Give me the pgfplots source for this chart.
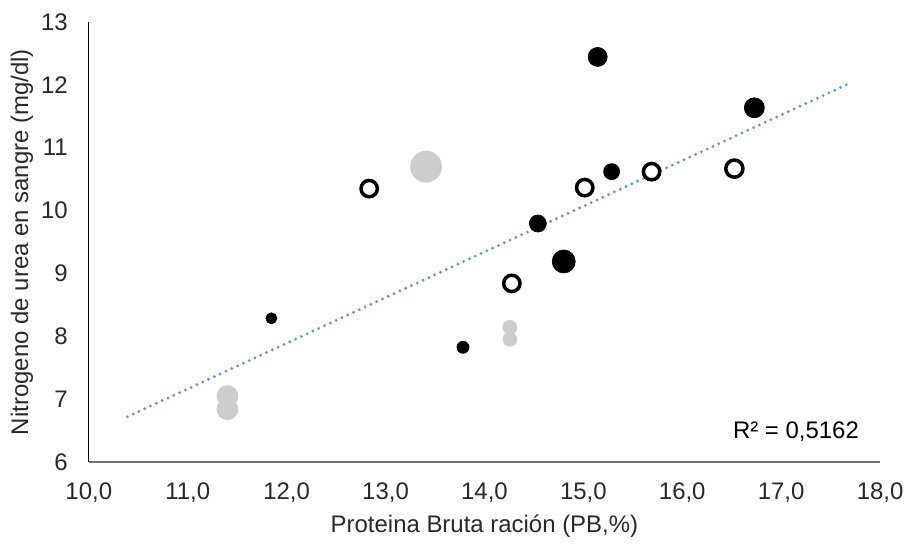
\documentclass[border=0pt]{standalone}
\usepackage{fontspec}
\setmainfont{Liberation Sans}
\usepackage{pgfplots}
\pgfplotsset{compat=1.18}
\usepackage{pgfplotstable}

\definecolor{trend}{RGB}{91,155,213}
\definecolor{lightgr}{RGB}{205,205,207}
\definecolor{txt}{RGB}{40,40,40}

% x, y, radius (pt)
\pgfplotstableread{
x y r
15.145 12.444 4.75
16.729 11.635 5.0
15.286 10.619 4.0
14.540 9.794 4.25
14.802 9.190 5.75
11.846 8.286 2.75
13.783 7.825 3.0
}\llenos

\pgfplotstableread{
x y r
12.835 10.349 4.1
15.014 10.365 4.1
15.690 10.619 4.1
16.527 10.667 4.3
14.277 8.841 4.1
}\abiertos

\pgfplotstableread{
x y r
13.410 10.698 7.75
11.402 7.048 5.25
11.402 6.841 5.25
14.257 8.143 3.5
14.257 7.952 3.5
}\grises

\begin{document}
\begin{tikzpicture}
\begin{axis}[
    name=ax,
    scale only axis,
    width=396.5pt,
    height=220.5pt,
    xmin=10, xmax=18,
    ymin=6, ymax=13,
    xtick={10,11,...,18},
    ytick={6,7,...,13},
    axis x line*=bottom,
    axis y line*=left,
    x axis line style={draw=black!55, line width=0.6pt},
    y axis line style={draw=black, line width=0.6pt},
    major tick length=0pt,
    font=\fontsize{12}{14}\selectfont,
    ticklabel style={text=txt},
    /pgf/number format/assume math mode=true,
    xticklabel style={/pgf/number format/.cd, fixed, fixed zerofill, precision=1, use comma, /tikz/.cd, yshift=-7pt},
    yticklabel style={xshift=-7pt},
    xlabel={Proteina Bruta ración (PB,\%)},
    ylabel={Nitrogeno de urea en sangre (mg/dl)},
    xlabel style={at={(axis description cs:0.5,0)}, anchor=center, yshift=-32pt, text=txt},
    ylabel style={at={(axis description cs:0,0.5)}, anchor=center, yshift=33.5pt, text=txt},
    clip=false,
]
% linea de tendencia
\addplot[trend, line width=1.6pt, line cap=round, dash pattern=on 0pt off 3.2pt]
    coordinates {(10.39,6.72) (17.70,12.03)};

\addplot[scatter, only marks, mark=*,
    scatter/use mapped color={draw=lightgr, fill=lightgr},
    visualization depends on={\thisrow{r}\as\rr},
    scatter/@pre marker code/.append style={/tikz/mark size=\rr pt}]
    table[x=x, y=y] {\grises};

\addplot[scatter, only marks, mark=*,
    scatter/use mapped color={draw=black, fill=black},
    visualization depends on={\thisrow{r}\as\rr},
    scatter/@pre marker code/.append style={/tikz/mark size=\rr pt}]
    table[x=x, y=y] {\llenos};

\addplot[scatter, only marks, mark=*,
    scatter/use mapped color={draw=black, fill=white},
    mark options={line width=1.75pt},
    visualization depends on={\thisrow{r}\as\rr},
    scatter/@pre marker code/.append style={/tikz/mark size=\rr pt, /tikz/line width=1.75pt}]
    table[x=x, y=y] {\abiertos};

\node[text=black, anchor=center] at (axis cs:17.15,6.49) {R² = 0,5162};
\end{axis}
\path (ax.south west) ++(-44.5pt,-38.5pt) rectangle ++(455pt,270pt);
\end{tikzpicture}
\end{document}
